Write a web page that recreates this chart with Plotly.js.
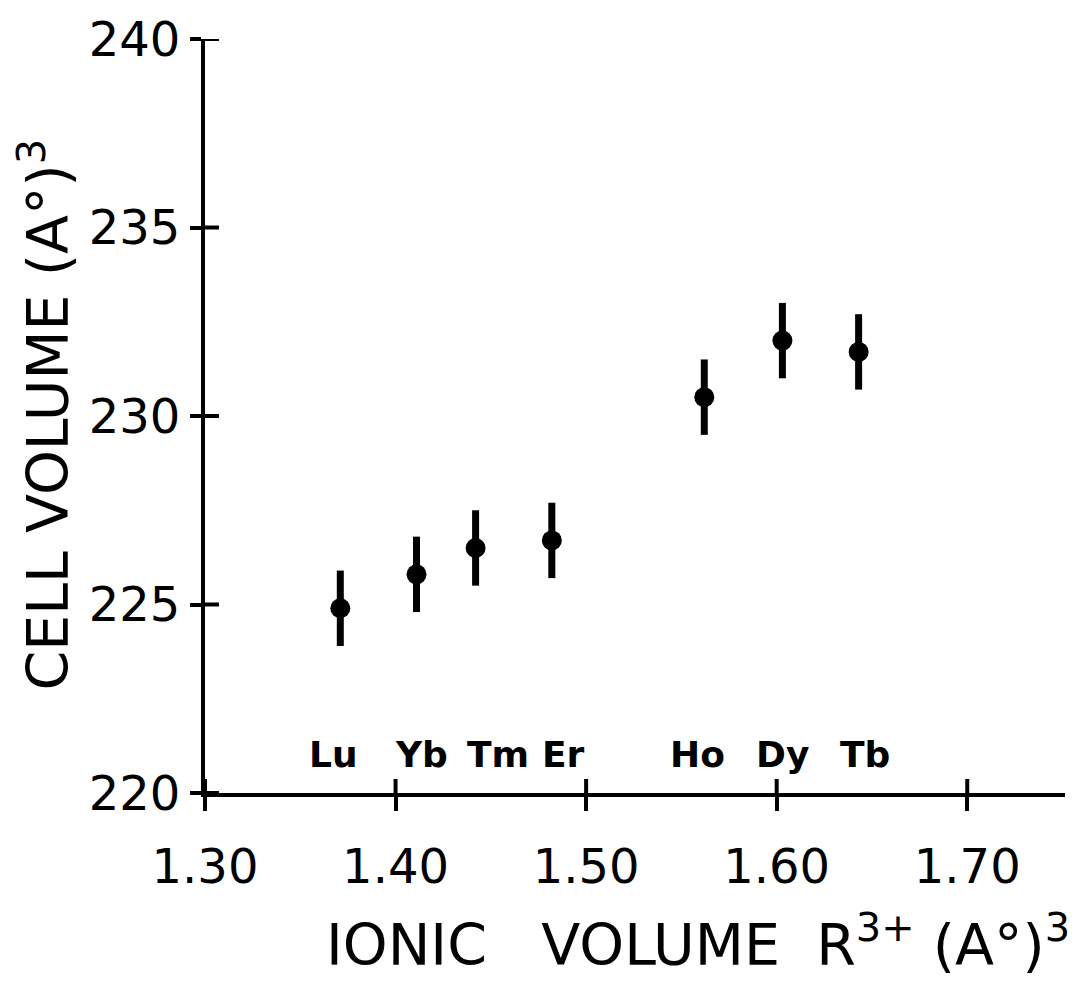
<!DOCTYPE html>
<html>
<head>
<meta charset="utf-8">
<script src="https://cdn.plot.ly/plotly-3.0.1.min.js"></script>
<style>html,body{margin:0;padding:0;background:#fff;}#chart{width:1080px;height:981px;}</style>
</head>
<body>
<div id="chart"></div>
<script>
// Data
const elements = ["Lu", "Yb", "Tm", "Er", "Ho", "Dy", "Tb"];
const ionicVolume = [1.371, 1.411, 1.442, 1.482, 1.562, 1.603, 1.643];
const cellVolume = [224.9, 225.8, 226.5, 226.7, 230.5, 232.0, 231.7];
const cellVolumeErr = [1.0, 1.0, 1.0, 1.0, 1.0, 1.0, 1.0];
const xTickVals = [1.30, 1.40, 1.50, 1.60, 1.70];
const xTickText = ["1.30", "1.40", "1.50", "1.60", "1.70"];
const yTickVals = [220, 225, 230, 235, 240];
const yTickText = ["220", "225", "230", "235", "240"];

// label nudges (style only)
const labelShift = [-7, 5, 22, 12, -7, 0, 6];

const FONT = "DejaVu Sans, Liberation Sans, Arial, sans-serif";

const trace = {
  type: "scatter",
  mode: "markers",
  x: ionicVolume,
  y: cellVolume,
  marker: {color: "#000", size: 20, line: {width: 0}},
  error_y: {type: "data", array: cellVolumeErr, visible: true, color: "#000", thickness: 7, width: 0},
  hoverinfo: "x+y",
  showlegend: false,
  cliponaxis: false
};

const annotations = elements.map((el, i) => ({
  text: el,
  x: ionicVolume[i],
  xref: "x",
  y: 0.051,
  yref: "paper",
  xanchor: "center",
  yanchor: "middle",
  xshift: labelShift[i],
  showarrow: false,
  font: {family: FONT, size: 36, color: "#000", weight: "bold"}
}));

annotations.push({
  text: "CELL VOLUME (A°)<sup>3</sup>",
  textangle: -90,
  x: -0.186, xref: "paper",
  y: 0.502, yref: "paper",
  xanchor: "center", yanchor: "middle",
  showarrow: false,
  font: {family: FONT, size: 57, color: "#000"}
});
annotations.push({
  text: "IONIC\u00a0\u00a0 VOLUME\u00a0 R<sup>3+</sup> (A°)<sup>3</sup>",
  x: 0.573, xref: "paper",
  y: -0.196, yref: "paper",
  xanchor: "center", yanchor: "middle",
  showarrow: false,
  font: {family: FONT, size: 57, color: "#000"}
});

// inner halves of the crossing tick marks
const shapes = [];
xTickVals.forEach(v => shapes.push({
  type: "line", xref: "x", yref: "paper", ysizemode: "pixel", yanchor: 0,
  x0: v, x1: v, y0: 0, y1: 14, line: {color: "#000", width: 4}
}));
yTickVals.forEach(v => shapes.push({
  type: "line", xref: "paper", yref: "y", xsizemode: "pixel", xanchor: 0,
  x0: 0, x1: 14, y0: v, y1: v, line: {color: "#000", width: 4}
}));

const layout = {
  width: 1080,
  height: 981,
  margin: {l: 205, r: 15, t: 39, b: 188, pad: 0},
  paper_bgcolor: "#fff",
  plot_bgcolor: "#fff",
  showlegend: false,
  xaxis: {
    range: [1.30, 1.7513],
    tickvals: xTickVals,
    ticktext: xTickText,
    ticks: "outside",
    ticklen: 14,
    tickwidth: 4,
    tickcolor: "#000",
    showline: true,
    linewidth: 4,
    linecolor: "#000",
    showgrid: false,
    zeroline: false,
    ticklabelstandoff: 14,
    tickfont: {family: FONT, size: 48, color: "#000"}
  },
  yaxis: {
    range: [220, 240],
    tickvals: yTickVals,
    ticktext: yTickText,
    ticks: "outside",
    ticklen: 11,
    tickwidth: 4,
    tickcolor: "#000",
    showline: true,
    linewidth: 4,
    linecolor: "#000",
    showgrid: false,
    zeroline: false,
    tickfont: {family: FONT, size: 48, color: "#000"}
  },
  shapes: shapes,
  annotations: annotations
};

Plotly.newPlot("chart", [trace], layout, {displayModeBar: false, staticPlot: true});
</script>
</body>
</html>
